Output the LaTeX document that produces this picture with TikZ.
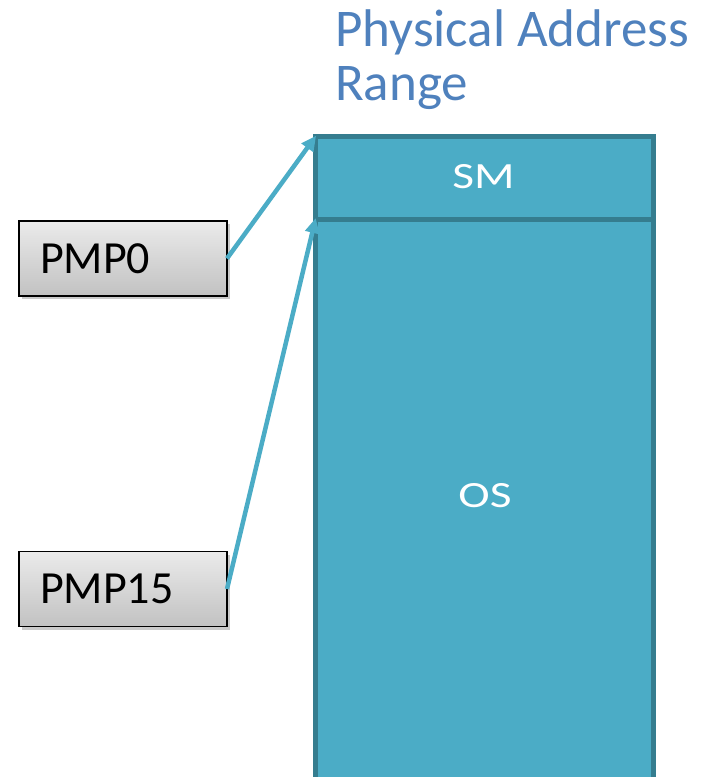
\documentclass[tikz,border=0pt]{standalone}
\usepackage{fontspec}
\setmainfont{Carlito}
\usetikzlibrary{arrows.meta,shadows}
\definecolor{regionfill}{HTML}{4BACC6}
\definecolor{regionline}{HTML}{357D8F}
\definecolor{titleblue}{HTML}{4F81BD}
\tikzset{
  region/.style={draw=regionline, line width=5pt, fill=regionfill, inner sep=0pt, outer sep=0pt},
  regtext/.style={text=white, font=\fontsize{37}{40}\selectfont, anchor=base, inner sep=0pt},
  pmpbox/.style={draw=black, line width=1.6pt, top color=black!8, bottom color=black!24,
    minimum width=208pt, minimum height=75pt, text width=166pt, align=left,
    inner xsep=21pt, inner ysep=0pt, outer sep=0pt,
    font=\fontsize{46}{50}\selectfont,
    drop shadow={shadow xshift=3pt, shadow yshift=-3pt, opacity=0.35, fill=black!60}},
  pointer/.style={draw=regionfill, line width=4.5pt,
    -{Triangle[length=15pt,width=14pt]}, shorten >=-1pt},
  titletext/.style={text=titleblue, font=\fontsize{53}{56}\selectfont, anchor=base west, inner sep=0pt}
}
\begin{document}
\begin{tikzpicture}[x=1pt,y=-1pt]
  \useasboundingbox (0,0) rectangle (708,777);
  \clip (0,0) rectangle (708,777);

  % heading
  \node[titletext] (t1) at (335,46) {Physical Address};
  \node[titletext] (t2) at (335,100) {Range};

  % memory map: OS region runs off the bottom edge
  \node[region, minimum width=338pt, minimum height=600pt, anchor=north west] (os) at (315.5,219) {};
  \node[region, minimum width=338pt, minimum height=82.5pt, anchor=north west] (sm) at (315.5,136.5) {};
  \node[regtext] (smlabel) at (483.5,188) {\scalebox{1.28}[1]{SM}};
  \node[regtext] (oslabel) at (485,507) {\scalebox{1.28}[1]{OS}};

  % PMP entries
  \node[pmpbox] (pmp0) at (123,258.5) {PMP0};
  \node[pmpbox] (pmp15) at (123,589) {PMP15};

  % pointers to region starts
  \draw[pointer] (pmp0.east) -- (sm.north west);
  \draw[pointer] (pmp15.east) -- (os.north west);
\end{tikzpicture}
\end{document}
